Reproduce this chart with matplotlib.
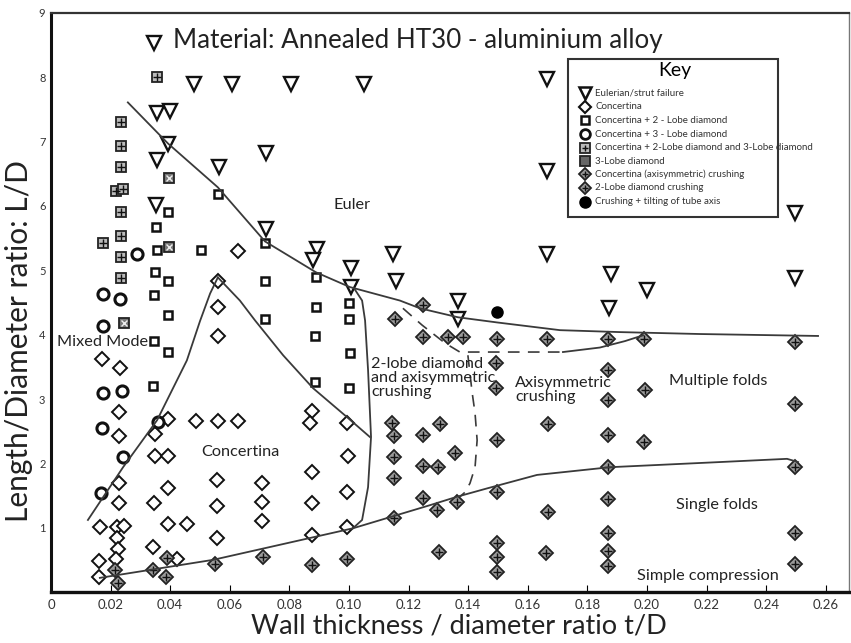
import matplotlib.pyplot as plt
from matplotlib.patches import Rectangle
from matplotlib.ticker import FuncFormatter

plt.rcParams['font.family'] = ['Lato', 'DejaVu Sans']

# ---- test points: wall thickness ratio t/D, length ratio L/D ----
# Eulerian / strut failure
euler_t = [0.0346, 0.0480, 0.0607, 0.0805, 0.1050, 0.1664, 0.0356, 0.0399, 0.0393, 0.0356,
           0.0564, 0.0721, 0.0352, 0.0721, 0.0893, 0.0879, 0.1007, 0.1007, 0.1148, 0.1158,
           0.1664, 0.2497, 0.1664, 0.1879, 0.2000, 0.1872, 0.2497, 0.1366, 0.1366]
euler_L = [8.54, 7.90, 7.90, 7.90, 7.90, 7.97, 7.44, 7.48, 6.97, 6.72,
           6.60, 6.82, 6.01, 5.65, 5.33, 5.16, 5.03, 4.74, 5.25, 4.84,
           6.55, 5.89, 5.25, 4.94, 4.70, 4.41, 4.88, 4.53, 4.25]

# Concertina
conc_t = [0.0628, 0.0560, 0.0560, 0.0560, 0.0171, 0.0232, 0.0228, 0.0228, 0.0349, 0.0393,
          0.0487, 0.0560, 0.0628, 0.0349, 0.0393, 0.0228, 0.0228, 0.0346, 0.0393, 0.0557,
          0.0557, 0.0708, 0.0708, 0.0708, 0.0876, 0.0869, 0.0876, 0.0876, 0.0876, 0.0993,
          0.0997, 0.0993, 0.0993, 0.0164, 0.0221, 0.0245, 0.0393, 0.0456, 0.0221, 0.0557,
          0.0342, 0.0225, 0.0161, 0.0218, 0.0423, 0.0161]
conc_L = [5.30, 4.83, 4.43, 3.98, 3.62, 3.48, 2.80, 2.42, 2.45, 2.69,
          2.66, 2.66, 2.66, 2.11, 2.11, 1.69, 1.38, 1.38, 1.61, 1.74,
          1.34, 1.69, 1.40, 1.10, 2.81, 2.62, 1.86, 1.38, 0.89, 2.62,
          2.11, 1.55, 1.01, 1.01, 1.01, 1.02, 1.06, 1.06, 0.84, 0.84,
          0.70, 0.67, 0.48, 0.51, 0.51, 0.23]

# Concertina + 2-lobe diamond
c2_t = [0.0560, 0.0393, 0.0352, 0.0356, 0.0503, 0.0718, 0.0349, 0.0393, 0.0346, 0.0393,
        0.0718, 0.0718, 0.0889, 0.0889, 0.1000, 0.1000, 0.0346, 0.0393, 0.0342, 0.0886,
        0.0886, 0.1003, 0.1000]
c2_L = [6.18, 5.90, 5.68, 5.31, 5.31, 5.42, 4.98, 4.83, 4.61, 4.30,
        4.83, 4.25, 4.89, 4.43, 4.49, 4.24, 3.90, 3.73, 3.20, 3.98,
        3.26, 3.71, 3.17]

# Concertina + 3-lobe diamond
c3_t = [0.0289, 0.0174, 0.0232, 0.0174, 0.0174, 0.0238, 0.0171, 0.0359, 0.0242, 0.0168]
c3_L = [5.26, 4.63, 4.55, 4.13, 3.09, 3.12, 2.55, 2.64, 2.10, 1.54]

# Concertina + 2-lobe diamond and 3-lobe diamond
c23_t = [0.0356, 0.0235, 0.0235, 0.0235, 0.0218, 0.0242, 0.0235, 0.0235, 0.0174, 0.0235, 0.0235]
c23_L = [8.00, 7.30, 6.94, 6.60, 6.24, 6.27, 5.90, 5.54, 5.42, 5.20, 4.88]

# 3-lobe diamond
l3_t = [0.0396, 0.0396, 0.0245]
l3_L = [6.44, 5.37, 4.18]

# Concertina (axisymmetric) crushing
axi_t = [0.0215, 0.0225, 0.0342, 0.0389, 0.0386, 0.0550, 0.0711, 0.0876, 0.0993,
         0.1497, 0.1664, 0.1869, 0.1990, 0.2497, 0.1493, 0.1869, 0.1493, 0.1993, 0.1869,
         0.2497, 0.1668, 0.1869, 0.1497, 0.1990, 0.1869, 0.2497, 0.1497, 0.1668, 0.1869,
         0.1869, 0.2497, 0.1497, 0.1497, 0.1497, 0.1661, 0.1869, 0.1869, 0.2497, 0.1302, 0.1151]
axi_L = [0.34, 0.14, 0.34, 0.53, 0.23, 0.43, 0.54, 0.42, 0.51,
         3.94, 3.94, 3.94, 3.94, 3.88, 3.56, 3.45, 3.17, 3.14, 2.98,
         2.93, 2.61, 2.44, 2.36, 2.33, 1.94, 1.94, 1.55, 1.24, 1.44,
         0.92, 0.92, 0.76, 0.54, 0.31, 0.61, 0.64, 0.40, 0.43, 0.62, 1.15]

# 2-lobe diamond crushing
l2_t = [0.1144, 0.1151, 0.1151, 0.1151, 0.1248, 0.1248, 0.1248, 0.1305, 0.1299, 0.1356,
        0.1362, 0.1295, 0.1154, 0.1248, 0.1248, 0.1332, 0.1383]
l2_L = [2.62, 2.42, 2.10, 1.77, 2.44, 1.96, 1.46, 2.61, 1.94, 2.16,
        1.40, 1.27, 4.25, 4.46, 3.96, 3.96, 3.96]

# Crushing + tilting of tube axis
tilt_t = [0.1497]
tilt_L = [4.36]

# ---- mode boundaries ----
b_euler_t = [0.0258, 0.0393, 0.0560, 0.0718, 0.0889, 0.1003, 0.1171, 0.1238, 0.1366,
             0.1497, 0.1708, 0.1909, 0.2178, 0.2574]
b_euler_L = [7.61, 6.97, 6.29, 5.45, 4.97, 4.74, 4.53, 4.41, 4.27,
             4.19, 4.07, 4.04, 4.01, 3.98]
b_mixed_t = [0.0124, 0.0242, 0.0356, 0.0456, 0.0500, 0.0534, 0.0560]
b_mixed_L = [1.12, 1.94, 2.67, 3.60, 4.21, 4.64, 4.89]
b_conc_t = [0.0560, 0.0634, 0.0685, 0.0779, 0.0879, 0.0993, 0.1070]
b_conc_L = [4.89, 4.53, 4.22, 3.68, 3.17, 2.72, 2.41]
b_vert_t = [0.1020, 0.1044, 0.1054, 0.1064, 0.1074, 0.1064, 0.1044, 0.1013]
b_vert_L = [4.70, 4.53, 4.22, 3.45, 2.41, 1.63, 1.12, 0.99]
b_single_t = [0.0164, 0.0544, 0.1013, 0.1272, 0.1362, 0.1463, 0.1631, 0.1876, 0.2245,
              0.2470, 0.2507]
b_single_L = [0.22, 0.50, 0.99, 1.35, 1.48, 1.61, 1.82, 1.94, 2.02, 2.07, 2.02]
b_axi_solid_t = [0.1718, 0.1842, 0.1926, 0.1987]
b_axi_solid_L = [3.73, 3.80, 3.90, 3.99]
b_dash_top_t = [0.1181, 0.1245, 0.1322, 0.1372, 0.1718]
b_dash_top_L = [4.41, 4.15, 3.87, 3.73, 3.73]
b_dash_vert_t = [0.1399, 0.1413, 0.1423, 0.1430, 0.1423, 0.1406, 0.1389, 0.1372]
b_dash_vert_L = [3.68, 3.11, 2.78, 2.36, 1.94, 1.69, 1.55, 1.48]

xticks = [0, 0.02, 0.04, 0.06, 0.08, 0.10, 0.12, 0.14, 0.16, 0.18, 0.20, 0.22, 0.24, 0.26]
yticks = [1, 2, 3, 4, 5, 6, 7, 8, 9]

fig = plt.figure(figsize=(8.51, 6.43), dpi=100)
ax = fig.add_axes([0.0599, 0.0793, 0.9378, 0.9005])
ax.set_xlim(0, 0.2678)
ax.set_ylim(0, 9)

lc = '#3a3a3a'


def crossed(t, L, face, over, ms=7, oms=5.5):
    ax.plot(t, L, 'D', ms=ms, mfc=face, mec='#222', mew=1.3, ls='none')
    ax.plot(t, L, over, ms=oms, mec='#111', mew=1.0, ls='none')


ax.plot(euler_t, euler_L, 'v', ms=10.5, mfc='white', mec='#111', mew=1.7, ls='none')
ax.plot(conc_t, conc_L, 'D', ms=7, mfc='white', mec='#111', mew=1.4, ls='none')
ax.plot(c2_t, c2_L, 's', ms=6, mfc='white', mec='#111', mew=1.8, ls='none')
ax.plot(c3_t, c3_L, 'o', ms=8, mfc='white', mec='#111', mew=2.2, ls='none')
ax.plot(c23_t, c23_L, 's', ms=6.5, mfc='#bbbbbb', mec='#222', mew=1.3, ls='none')
ax.plot(c23_t, c23_L, '+', ms=6, mec='#111', mew=1.0, ls='none')
ax.plot(l3_t, l3_L, 's', ms=7, mfc='#777777', mec='#222', mew=1.3, ls='none')
ax.plot(l3_t, l3_L, 'x', ms=4.5, mec='#eeeeee', mew=1.0, ls='none')
crossed(axi_t, axi_L, '#9a9a9a', '+')
crossed(l2_t, l2_L, '#9a9a9a', '+')
ax.plot(tilt_t, tilt_L, 'o', ms=8, mfc='black', mec='black', ls='none')

for bt, bl in [(b_euler_t, b_euler_L), (b_mixed_t, b_mixed_L), (b_conc_t, b_conc_L),
               (b_vert_t, b_vert_L), (b_single_t, b_single_L), (b_axi_solid_t, b_axi_solid_L)]:
    ax.plot(bt, bl, color=lc, lw=1.3)
ax.plot(b_dash_top_t, b_dash_top_L, color=lc, lw=1.2, dashes=(7, 5))
ax.plot(b_dash_vert_t, b_dash_vert_L, color=lc, lw=1.2, dashes=(7, 5))

# region labels
fs = 11.7
ax.text(0.1010, 6.01, 'Euler', fontsize=fs, ha='center', va='center', color='#222')
ax.text(0.0020, 3.88, 'Mixed Mode', fontsize=fs, ha='left', va='center', color='#222')
ax.text(0.0634, 2.17, 'Concertina', fontsize=fs, ha='center', va='center', color='#222')
ax.text(0.1074, 3.32, '2-lobe diamond\nand axisymmetric\ncrushing', fontsize=fs,
        ha='left', va='center', linespacing=1.0, color='#222')
ax.text(0.1557, 3.14, 'Axisymmetric\ncrushing', fontsize=fs, ha='left', va='center',
        linespacing=1.0, color='#222')
ax.text(0.2074, 3.28, 'Multiple folds', fontsize=fs, ha='left', va='center', color='#222')
ax.text(0.2097, 1.35, 'Single folds', fontsize=fs, ha='left', va='center', color='#222')
ax.text(0.1966, 0.25, 'Simple compression', fontsize=fs, ha='left', va='center', color='#222')

ax.text(0.1525, 0.953, 'Material: Annealed HT30 - aluminium alloy', transform=ax.transAxes,
        fontsize=18.7, ha='left', va='center', color='#222')

# key box
ax.add_patch(Rectangle((0.648, 0.648), 0.263, 0.273, transform=ax.transAxes,
                       fill=False, ec='#333', lw=1.5, zorder=3))
ax.text(0.782, 0.900, 'Key', transform=ax.transAxes, fontsize=14, ha='center', va='center')
key_rows = [
    ('Eulerian/strut failure', dict(marker='v', ms=9, mfc='white', mec='#111', mew=1.8)),
    ('Concertina', dict(marker='D', ms=6, mfc='white', mec='#111', mew=1.5)),
    ('Concertina + 2 - Lobe diamond', dict(marker='s', ms=6, mfc='white', mec='#111', mew=1.8)),
    ('Concertina + 3 - Lobe diamond', dict(marker='o', ms=7, mfc='white', mec='#111', mew=2)),
    ('Concertina + 2-Lobe diamond and 3-Lobe diamond', dict(marker='s', ms=6.5, mfc='#bbbbbb', mec='#222', mew=1.3)),
    ('3-Lobe diamond', dict(marker='s', ms=6.5, mfc='#666666', mec='#222', mew=1.3)),
    ('Concertina (axisymmetric) crushing', dict(marker='D', ms=6.5, mfc='#9a9a9a', mec='#222', mew=1.3)),
    ('2-Lobe diamond crushing', dict(marker='D', ms=6.5, mfc='#9a9a9a', mec='#222', mew=1.3)),
    ('Crushing + tilting of tube axis', dict(marker='o', ms=8, mfc='black', mec='black')),
]
row_y = [0.861, 0.838, 0.815, 0.791, 0.767, 0.744, 0.722, 0.698, 0.674]
for (lab, kw), yy in zip(key_rows, row_y):
    ax.plot([0.669], [yy], transform=ax.transAxes, ls='none', clip_on=False, zorder=4, **kw)
    ax.text(0.682, yy, lab, transform=ax.transAxes, fontsize=7, ha='left', va='center',
            color='#333', zorder=4)
for yy, ov in [(0.767, '+'), (0.722, '+'), (0.698, '+')]:
    ax.plot([0.669], [yy], ov, transform=ax.transAxes, ms=5, mec='#111', mew=1.0, zorder=5)

# axes styling
ax.set_xticks(xticks)
ax.set_yticks(yticks)
ax.xaxis.set_major_formatter(FuncFormatter(lambda v, p: '0' if v == 0 else '%.2f' % v))
ax.tick_params(axis='x', direction='in', length=5, labelsize=9.5, labelcolor='#333', pad=5)
ax.tick_params(axis='y', length=0, labelsize=8, labelcolor='#333', pad=4)
for side, lw, col in [('left', 2.2, '#111'), ('bottom', 2.4, '#111'),
                      ('top', 1.6, '#333'), ('right', 1.0, '#777')]:
    ax.spines[side].set_linewidth(lw)
    ax.spines[side].set_color(col)

ax.set_xlabel('Wall thickness / diameter ratio t/D', fontsize=19.5, color='#222')
ax.set_ylabel('Length/Diameter ratio: L/D', fontsize=21.5, color='#222')
ax.xaxis.set_label_coords(0.511, -0.037)
ax.yaxis.set_label_coords(-0.022, 0.434)

fig.savefig('out.png', dpi=100)
